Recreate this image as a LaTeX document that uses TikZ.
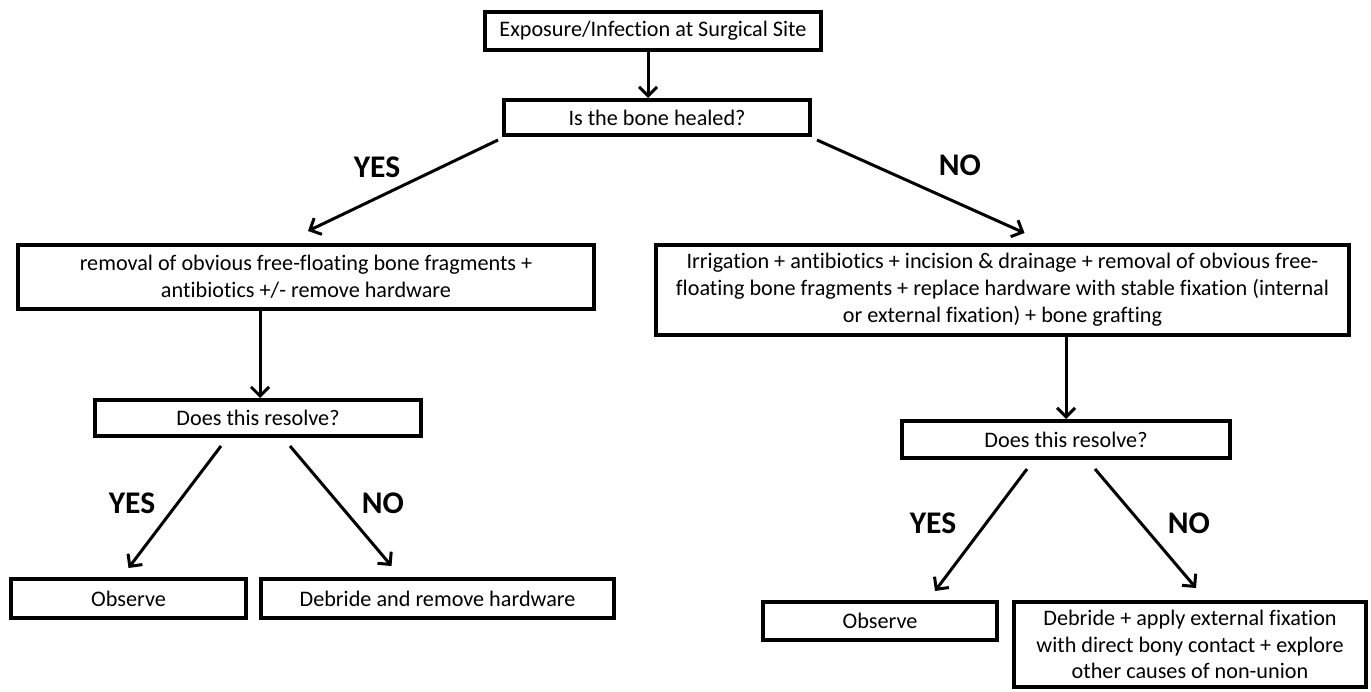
\documentclass[tikz,border=0pt]{standalone}
\usepackage{fontspec}
\setmainfont{Carlito}[Ligatures=NoCommon]
\usetikzlibrary{arrows.meta}
\begin{document}
\begin{tikzpicture}[x=1pt,y=-1pt,
  box/.style={draw=black, line width=4pt, fill=white, inner sep=0pt, align=center,
    font=\fontsize{22.2}{26.8}\selectfont},
  lbl/.style={font=\fontsize{31.5}{31.5}\selectfont\bfseries, inner sep=0pt},
  arr/.style={line width=3pt, -{Straight Barb[length=9pt,width=18pt]}}]
\useasboundingbox (0,0) rectangle (1371,692);
% boxes
\node[box, minimum width=336, minimum height=38] (b1) at (653,31) {Exposure/Infection at Surgical Site};
\node[box, minimum width=306, minimum height=35] (b2) at (657,117.5) {Is the bone healed?};
\node[box, minimum width=576, minimum height=64] (L1) at (306,277) {removal of obvious free-floating bone fragments +\\antibiotics +/- remove hardware};
\node[box, minimum width=693, minimum height=90] (R1) at (1002.5,290) {Irrigation + antibiotics + incision \& drainage + removal of obvious free-\\floating bone fragments + replace hardware with stable fixation (internal\\or external fixation) + bone grafting};
\node[box, minimum width=326, minimum height=36] (LD) at (258,418) {Does this resolve?};
\node[box, minimum width=328, minimum height=37] (RD) at (1066,439.5) {Does this resolve?};
\node[box, minimum width=235, minimum height=39] (LO) at (128.5,598.5) {Observe};
\node[box, minimum width=353, minimum height=39] (LDeb) at (437.5,598.5) {Debride and remove hardware};
\node[box, minimum width=234, minimum height=38] (RO) at (880,621) {Observe};
\node[box, minimum width=352, minimum height=85] (RDeb) at (1190,644.5) {Debride + apply external fixation\\with direct bony contact + explore\\other causes of non-union};
% labels
\node[lbl] (y1) at (377,167) {YES};
\node[lbl] (n1) at (960,165) {NO};
\node[lbl] (y2) at (132,503) {YES};
\node[lbl] (n2) at (383,503) {NO};
\node[lbl] (y3) at (933,523) {YES};
\node[lbl] (n3) at (1189,523) {NO};
% connectors
\draw[arr] ([xshift=-5pt]b1.south) -- ([xshift=-5pt]b1.south |- b2.north);
\draw[arr] ([shift={(-4,3)}]b2.south west) -- ([shift={(2,-12)}]L1.north);
\draw[arr] ([shift={(5,3)}]b2.south east) -- ([shift={(22,-10)}]R1.north);
\draw[arr] ([xshift=2pt]LD.north |- L1.south) -- ([xshift=2pt]LD.north);
\draw[arr] (RD.north |- R1.south) -- (RD.north);
\draw[arr] ([shift={(-37,8)}]LD.south) -- ([shift={(0,-9)}]LO.north);
\draw[arr] ([shift={(32,8)}]LD.south) -- ([shift={(-46,-11)}]LDeb.north);
\draw[arr] ([shift={(-39,9)}]RD.south) -- ([shift={(55,-9)}]RO.north);
\draw[arr] ([shift={(29,9)}]RD.south) -- ([shift={(6,-12)}]RDeb.north);
\end{tikzpicture}
\end{document}
